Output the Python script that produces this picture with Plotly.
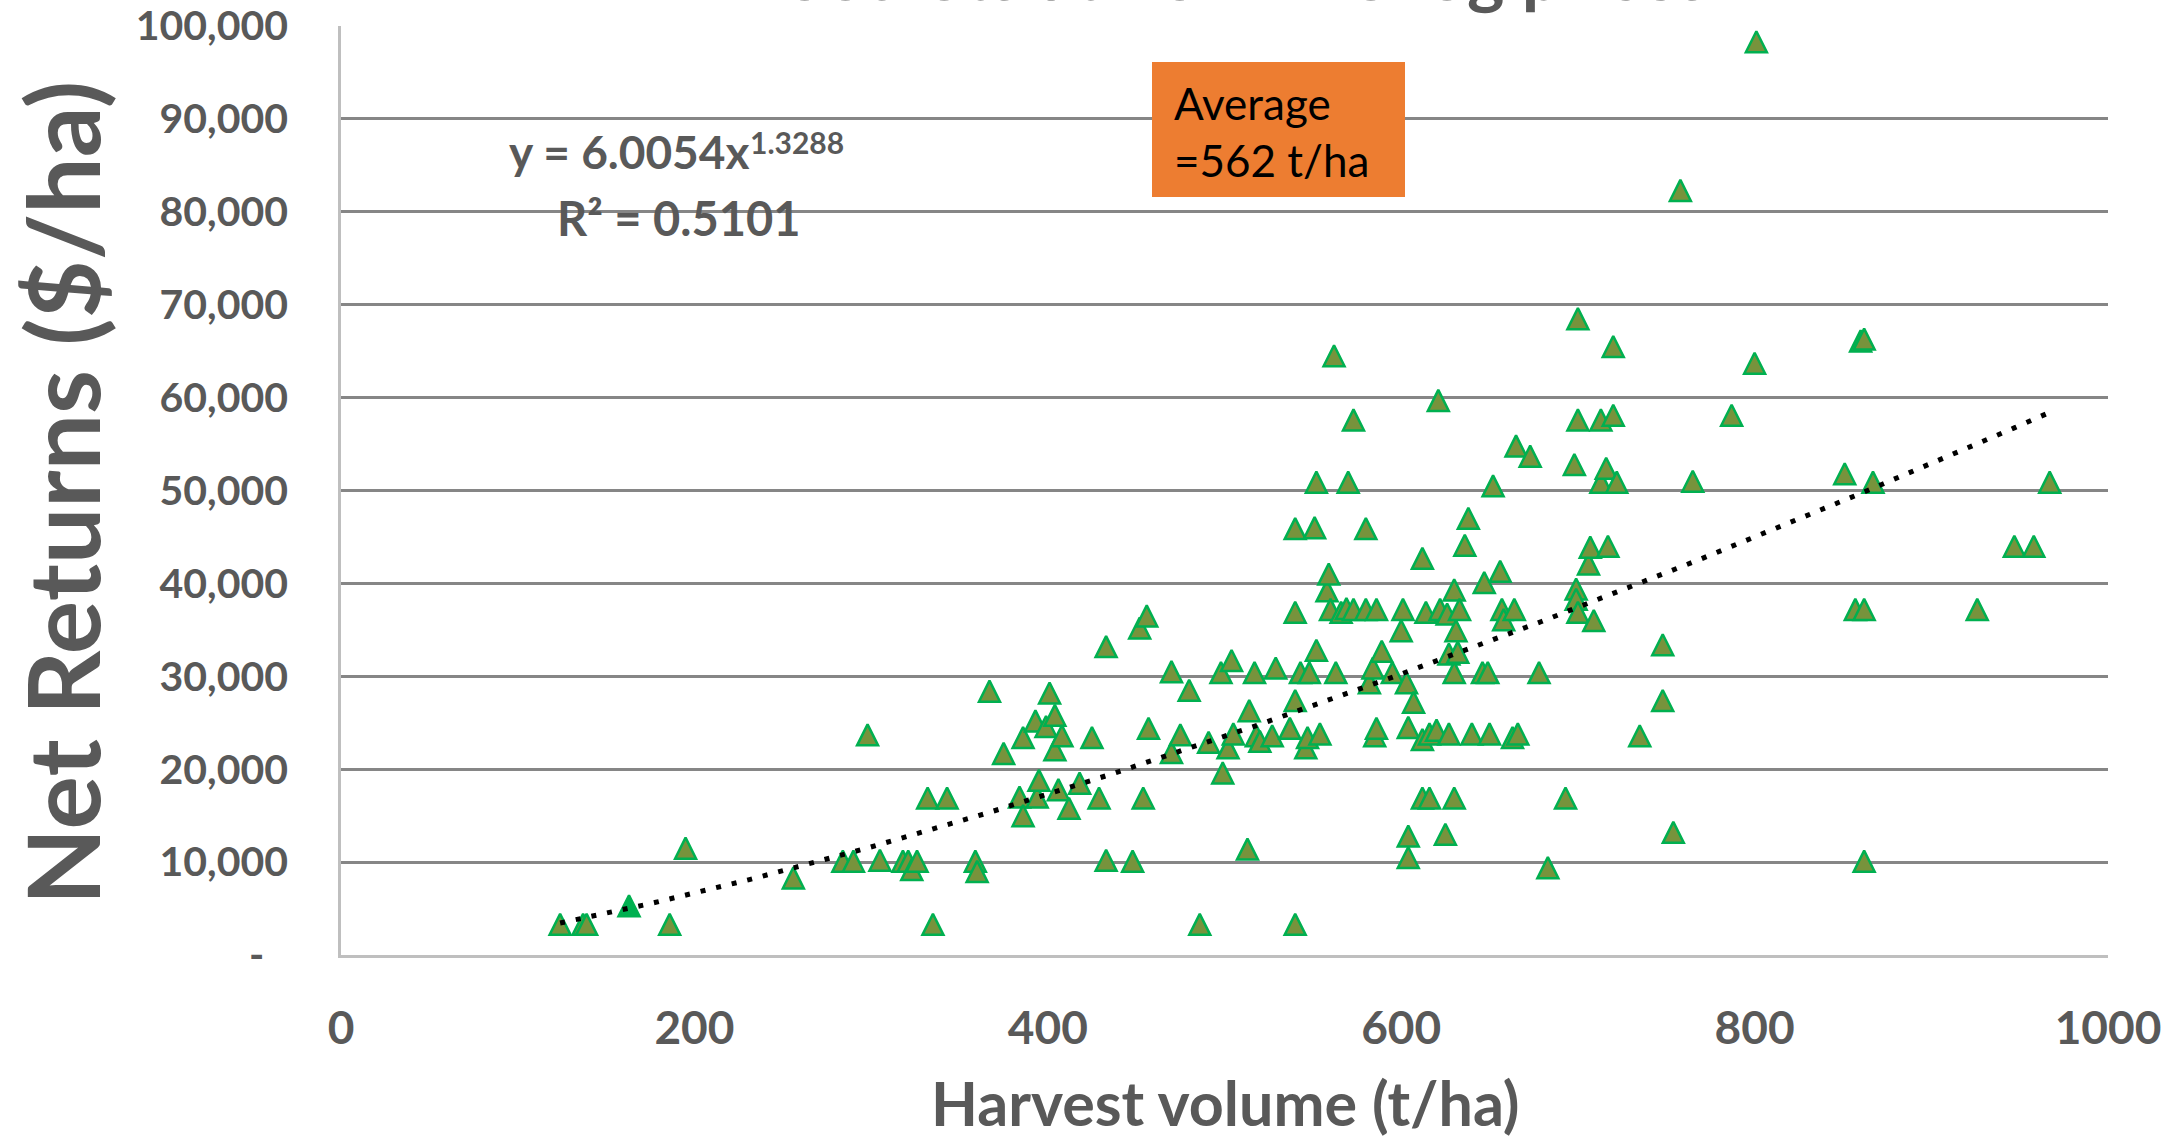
import numpy as np
import plotly.graph_objects as go

# ---------------- data ----------------
harvest_volume = [
    124, 137, 139, 186, 195, 256, 284, 290, 298, 305, 318, 321, 323, 326, 332, 335, 343,
    359, 360, 367, 375, 384, 386, 386, 393, 394, 395, 399, 401, 404, 404, 406, 408, 412,
    418, 425, 429, 433, 433, 448, 452, 454, 456, 457, 470, 470, 475, 480, 486,
    491, 498, 499, 502, 504, 505, 513, 514, 517, 518, 520, 527, 529, 537, 540, 540, 540,
    540, 543, 546, 547, 548, 551, 552, 552, 554, 558, 559, 560, 562, 563, 566, 569, 570,
    573, 573, 580, 580, 582, 584, 585, 586, 586, 589, 595, 600, 601, 603, 604, 604, 604,
    607, 612, 612, 612, 614, 616, 616, 620, 621, 622, 625, 626, 627, 627, 630, 630, 630,
    631, 632, 633, 636, 638, 640, 646, 647, 649, 650, 652, 656, 657, 658, 663, 664, 665,
    666, 673, 678, 683, 693, 698, 699, 699, 700, 700, 700, 706, 707, 709, 713, 713, 716,
    717, 720, 720, 722, 735, 748, 748, 754, 758, 765, 787, 800, 801, 851, 857, 860, 862,
    862, 862, 867, 926, 947, 958, 967,
]
net_returns = [
    3300, 3300, 3300, 3300, 11500, 8300, 10100, 10100, 23700, 10200, 10100, 10100, 9200, 10100, 16900, 3300, 16900,
    10100, 9000, 28400, 21700, 17000, 23400, 15000, 25200, 17000, 18800, 24600, 28200, 25800, 22100, 17800, 23600, 15800,
    18500, 23400, 16900, 33200, 10200, 10100, 35200, 16900, 36500, 24400, 30500, 21800, 23700, 28500, 3300,
    22900, 30400, 19600, 22300, 31700, 23800, 11400, 26300, 30400, 23600, 23000, 23600, 30900, 24400, 3300, 27400, 36900,
    45900, 30400, 22300, 23400, 30400, 46000, 32800, 50900, 23800, 39200, 41000, 37200, 64500, 30400, 36900, 37300, 50900,
    37200, 57600, 37200, 45900, 29300, 30900, 23600, 24400, 37200, 32700, 30400, 34900, 37200, 29300, 24500, 12800, 10500,
    27200, 42700, 23200, 16900, 36900, 23800, 16900, 24200, 59700, 37200, 13000, 36700, 32400, 23800, 39300, 30400, 16900,
    34900, 32600, 37200, 44100, 47000, 23800, 30400, 40100, 30400, 23800, 50500, 41300, 37200, 36100, 23400, 37200, 54800,
    23800, 53700, 30400, 9400, 16900, 52800, 39400, 38300, 68500, 57600, 36900, 42100, 43900, 36000, 57600, 50900, 52400,
    44000, 65500, 58100, 50900, 23600, 33400, 27400, 13200, 82300, 51000, 58100, 63700, 98300, 51800, 37200, 66100, 66300,
    37200, 10100, 50900, 37200, 44000, 44000, 50900,
]
# one point drawn with a bright green fill in the reference
highlight_volume = [163]
highlight_returns = [5300]

x_tick_vals = [0, 200, 400, 600, 800, 1000]
x_tick_text = ["0", "200", "400", "600", "800", "1000"]
y_tick_vals = [0, 10000, 20000, 30000, 40000, 50000, 60000, 70000, 80000, 90000, 100000]
y_tick_text = ["-\u2007", "10,000", "20,000", "30,000", "40,000", "50,000",
               "60,000", "70,000", "80,000", "90,000", "100,000"]

# ---------------- power trendline (least squares in log space, as Excel does) ----------------
all_x = np.array(harvest_volume + highlight_volume, dtype=float)
all_y = np.array(net_returns + highlight_returns, dtype=float)
b_fit, ln_a = np.polyfit(np.log(all_x), np.log(all_y), 1)
a_fit = np.exp(ln_a)

# ---------------- figure ----------------
W, H = 2177, 1138
ML, MR, MT, MB = 341, 69, 26, 183
PW, PH = W - ML - MR, H - MT - MB


def px_x(p):
    return (p - ML) / PW


def px_y(p):
    return (H - MB - p) / PH


GREY = "#595959"
FONT = "Lato"
MSIZE = 21

marker_style = dict(
    symbol="arrow-down", angle=180, standoff=MSIZE / 2, size=MSIZE,
    color="#77933C", line=dict(color="#00B050", width=2.5),
)

fig = go.Figure()
fig.add_trace(go.Scatter(
    x=harvest_volume, y=net_returns, mode="markers",
    marker=marker_style, showlegend=False, cliponaxis=False,
))
hl_style = dict(marker_style)
hl_style["color"] = "#00B050"
fig.add_trace(go.Scatter(
    x=highlight_volume, y=highlight_returns, mode="markers",
    marker=hl_style, showlegend=False, cliponaxis=False,
))

tx = np.linspace(all_x.min(), all_x.max(), 300)
ty = a_fit * tx ** b_fit
fig.add_trace(go.Scatter(
    x=tx, y=ty, mode="lines",
    line=dict(color="black", width=5, dash="5px,11px"),
    showlegend=False, hoverinfo="skip",
))

fig.update_layout(
    width=W, height=H,
    margin=dict(l=ML, r=MR, t=MT, b=MB, pad=0),
    paper_bgcolor="white", plot_bgcolor="white",
    xaxis=dict(
        range=[0, 1000], tickvals=x_tick_vals, ticktext=x_tick_text,
        showgrid=False, zeroline=False, showline=True, automargin=False,
        linecolor="#BFBFBF", linewidth=3, ticks="",
        tickfont=dict(family=FONT, size=46, color=GREY, weight="bold"),
        ticklabelstandoff=31,
    ),
    yaxis=dict(
        range=[0, 100000], tickvals=y_tick_vals, ticktext=y_tick_text,
        showgrid=True, gridcolor="#868686", gridwidth=2.5, automargin=False,
        zeroline=False, showline=True, linecolor="#BFBFBF", linewidth=2.5,
        ticks="", tickfont=dict(family=FONT, size=41, color=GREY, weight="bold"),
        ticklabelstandoff=42,
    ),
    shapes=[dict(
        type="rect", xref="paper", yref="paper",
        x0=px_x(1152), x1=px_x(1405), y0=px_y(197), y1=px_y(62),
        fillcolor="#ED7D31", line=dict(width=0), layer="above",
    )],
    annotations=[
        dict(text="Woodlots at 2017-18 log prices", xref="paper", yref="paper",
             x=px_x(1211), y=px_y(-27), xanchor="center", yanchor="middle",
             showarrow=False, font=dict(family=FONT, size=71, color=GREY, weight="bold")),
        dict(text="Net Returns ($/ha)", xref="paper", yref="paper",
             x=px_x(61), y=px_y(493), xanchor="center", yanchor="middle", textangle=-90,
             showarrow=False, font=dict(family=FONT, size=100, color=GREY, weight="bold")),
        dict(text="Harvest volume (t/ha)", xref="paper", yref="paper",
             x=px_x(1225), y=px_y(1102), xanchor="center", yanchor="middle",
             showarrow=False, font=dict(family=FONT, size=61, color=GREY, weight="bold")),
        dict(text="y = 6.0054x", xref="paper", yref="paper",
             x=px_x(507), y=px_y(152), xanchor="left", yanchor="middle",
             showarrow=False, font=dict(family=FONT, size=46, color=GREY, weight="bold")),
        dict(text="1.3288", xref="paper", yref="paper",
             x=px_x(748), y=px_y(142), xanchor="left", yanchor="middle",
             showarrow=False, font=dict(family=FONT, size=30, color=GREY, weight="bold")),
        dict(text="R\u00b2 = 0.5101", xref="paper", yref="paper",
             x=px_x(555), y=px_y(218), xanchor="left", yanchor="middle",
             showarrow=False, font=dict(family=FONT, size=47, color=GREY, weight="bold")),
        dict(text="Average<br>=562 t/ha", xref="paper", yref="paper",
             x=px_x(1172), y=px_y(132), xanchor="left", yanchor="middle", align="left",
             showarrow=False, font=dict(family=FONT, size=44, color="black")),
    ],
)

fig.write_html("out.html")
